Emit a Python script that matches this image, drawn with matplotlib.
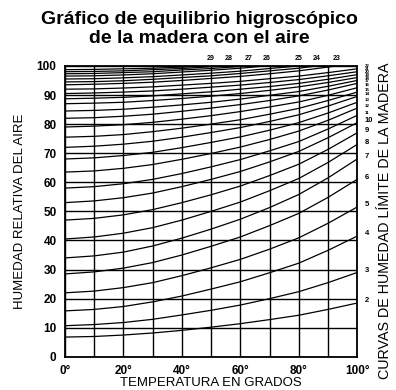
"""
Grafico de equilibrio higroscopico de la madera con el aire.
"""
import numpy as np
import matplotlib
matplotlib.use('Agg')
import matplotlib.pyplot as plt

plt.rcParams['font.family'] = ['Liberation Sans', 'DejaVu Sans']

# Temperatures (deg C) at which each curve was read
temps = [0, 10, 20, 30, 40, 50, 60, 70, 80, 90, 100]

# Relative humidity (%) of each equilibrium moisture content curve
emc_02 = [6.8, 7.0, 7.5, 8.2, 9.1, 10.2, 11.4, 12.8, 14.3, 16.3, 18.5]
emc_03 = [10.7, 11.1, 11.8, 12.9, 14.4, 16.0, 17.8, 20.0, 22.4, 25.5, 29.0]
emc_04 = [15.8, 16.3, 17.3, 18.9, 20.9, 23.3, 25.8, 28.9, 32.2, 36.6, 41.5]
emc_05 = [22.0, 22.6, 23.8, 25.5, 27.9, 30.6, 33.5, 37.0, 40.9, 45.9, 51.5]
emc_06 = [28.5, 29.2, 30.5, 32.4, 35.0, 38.0, 41.2, 45.1, 49.3, 54.8, 61.0]
emc_07 = [34.0, 34.7, 36.0, 38.1, 40.8, 43.9, 47.3, 51.3, 55.8, 61.5, 68.0]
emc_08 = [40.5, 41.2, 42.5, 44.4, 47.0, 50.0, 53.2, 57.1, 61.3, 66.8, 73.0]
emc_09 = [47.0, 47.6, 48.8, 50.6, 53.0, 55.7, 58.7, 62.3, 66.2, 71.3, 77.0]
emc_10 = [53.0, 53.6, 54.7, 56.3, 58.5, 61.0, 63.7, 67.0, 70.6, 75.3, 80.5]
emc_11 = [58.0, 58.5, 59.5, 61.0, 63.0, 65.3, 67.8, 70.8, 74.0, 78.3, 83.0]
emc_12 = [63.5, 63.9, 64.8, 66.1, 67.9, 69.9, 72.1, 74.7, 77.6, 81.3, 85.5]
emc_13 = [68.0, 68.4, 69.2, 70.3, 71.9, 73.7, 75.6, 77.9, 80.5, 83.8, 87.5]
emc_14 = [72.0, 72.4, 73.1, 74.1, 75.5, 77.1, 78.8, 80.9, 83.2, 86.2, 89.5]
emc_15 = [75.5, 75.8, 76.4, 77.4, 78.6, 80.0, 81.5, 83.4, 85.4, 88.1, 91.0]
emc_16 = [79.0, 79.3, 79.8, 80.6, 81.7, 82.9, 84.3, 85.9, 87.6, 89.9, 92.5]
emc_17 = [82.0, 82.2, 82.7, 83.4, 84.4, 85.5, 86.7, 88.1, 89.7, 91.7, 94.0]
emc_18 = [84.5, 84.7, 85.1, 85.8, 86.6, 87.5, 88.6, 89.9, 91.2, 93.0, 95.0]
emc_19 = [87.0, 87.2, 87.5, 88.1, 88.8, 89.6, 90.5, 91.6, 92.8, 94.3, 96.0]
emc_20 = [88.7, 88.9, 89.2, 89.7, 90.4, 91.1, 92.0, 92.9, 94.0, 95.4, 97.0]
emc_21 = [90.5, 90.7, 91.0, 91.4, 92.0, 92.7, 93.4, 94.3, 95.3, 96.6, 98.0]
emc_22 = [92.0, 92.1, 92.4, 92.8, 93.4, 94.0, 94.7, 95.6, 96.5, 97.7, 99.0]
emc_23 = [93.5, 93.7, 94.0, 94.4, 95.0, 95.7, 96.4, 97.3, 98.3, 99.6, 101.0]
emc_24 = [94.5, 94.6, 94.9, 95.4, 96.0, 96.6, 97.4, 98.3, 99.2, 100.5, 101.9]
emc_25 = [95.5, 95.6, 95.9, 96.3, 96.9, 97.5, 98.2, 99.1, 100.0, 101.2, 102.5]
emc_26 = [96.5, 96.6, 96.9, 97.3, 97.9, 98.5, 99.2, 100.1, 101.0, 102.2, 103.5]
emc_27 = [97.3, 97.4, 97.7, 98.0, 98.6, 99.1, 99.8, 100.5, 101.3, 102.4, 103.6]
emc_28 = [98.0, 98.1, 98.3, 98.7, 99.1, 99.7, 100.2, 100.9, 101.6, 102.6, 103.7]
emc_29 = [98.7, 98.8, 99.0, 99.2, 99.6, 100.0, 100.5, 101.0, 101.6, 102.3, 103.2]

curves = [emc_02, emc_03, emc_04, emc_05, emc_06, emc_07, emc_08, emc_09,
          emc_10, emc_11, emc_12, emc_13, emc_14, emc_15, emc_16, emc_17,
          emc_18, emc_19, emc_20, emc_21, emc_22, emc_23, emc_24, emc_25,
          emc_26, emc_27, emc_28, emc_29]
curve_labels = list(range(2, 30))

x_ticks = [0, 20, 40, 60, 80, 100]
x_tick_labels = ['0°', '20°', '40°', '60°', '80°', '100°']
y_ticks = [0, 10, 20, 30, 40, 50, 60, 70, 80, 90, 100]

# Create figure
fig = plt.figure(figsize=(3.96, 3.90), dpi=100)
ax = fig.add_axes([0.164, 0.085, 0.738, 0.746])

# Grid every 10 units
for t in range(0, 101, 10):
    ax.axvline(t, color='black', linewidth=1.0, zorder=1)
for h in range(0, 101, 10):
    ax.axhline(h, color='black', linewidth=1.0, zorder=1)

# Moisture content curves
for values, label in zip(curves, curve_labels):
    ax.plot(temps, values, color='black', linewidth=0.9, zorder=2)
    if values[-1] <= 100:
        size = 5.5 if label <= 10 else 3.2
        ax.text(102.5, values[-1] + 0.8, str(label), fontsize=size,
                fontweight='bold', ha='left', va='center', clip_on=False)
    else:
        t_exit = np.interp(100, values, temps)
        ax.text(t_exit, 101.5, str(label), fontsize=5, fontweight='bold',
                ha='center', va='bottom', clip_on=False)

ax.set_xlim(0, 100)
ax.set_ylim(0, 100)
ax.set_xticks(x_ticks)
ax.set_xticklabels(x_tick_labels, fontsize=8.5, fontweight='bold')
ax.set_yticks(y_ticks)
ax.set_yticklabels([str(v) for v in y_ticks], fontsize=8.5, fontweight='bold')
ax.tick_params(length=0, pad=6)
for spine in ax.spines.values():
    spine.set_linewidth(1.3)

ax.set_xlabel('TEMPERATURA EN GRADOS', fontsize=9.5, labelpad=0)
ax.set_ylabel('HUMEDAD RELATIVA DEL AIRE', fontsize=9.5, labelpad=8)

fig.text(0.972, 0.435, 'CURVAS DE HUMEDAD LÍMITE DE LA MADERA', fontsize=10.3,
         rotation=90, ha='center', va='center')
fig.text(0.503, 0.926, 'Gráfico de equilibrio higroscópico\nde la madera con el aire',
         fontsize=14, fontweight='bold', ha='center', va='center',
         linespacing=1.2)

fig.savefig('out.png', dpi=100)
plt.close(fig)
